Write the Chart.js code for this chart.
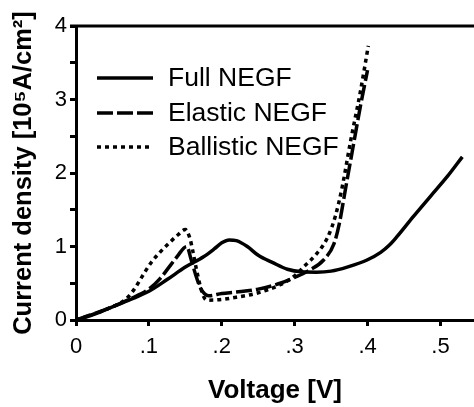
<!DOCTYPE html>
<html>
<head>
<meta charset="utf-8">
<script src="https://cdn.jsdelivr.net/npm/chart.js@4/dist/chart.umd.min.js"></script>
<style>
  body { margin: 0; background: #fff; }
  #wrap { width: 474px; height: 407px; }
</style>
</head>
<body>
<div id="wrap"><canvas id="ivChart" width="474" height="407"></canvas></div>
<script>
// ---- data ----
var fullV = [0, .02, .05, .075, .1, .125, .15, .175, .19, .2, .21, .22, .235, .25, .27, .29, .31, .33, .35, .372, .40, .418, .43, .44, .463, .486, .51, .53];
var fullJ = [0, .06, .18, .28, .39, .55, .72, .86, .97, 1.05, 1.09, 1.08, 1.0, .88, .78, .69, .655, .65, .665, .72, .82, .92, 1.02, 1.13, 1.41, 1.68, 1.96, 2.22];

var elasticV = [0, .05, .075, .1, .115, .13, .14, .148, .152, .158, .164, .17, .176, .182, .2, .22, .25, .28, .3, .317, .34, .354, .361, .37, .38, .39, .40];
var elasticJ = [0, .18, .29, .42, .56, .75, .88, .98, 1.0, .82, .62, .45, .36, .33, .36, .38, .42, .5, .58, .66, .82, 1.04, 1.3, 1.8, 2.35, 2.9, 3.4];

var ballisticV = [0, .05, .068, .08, .09, .103, .116, .128, .14, .15, .156, .16, .165, .17, .175, .18, .2, .22, .25, .28, .3, .313, .33, .345, .356, .365, .377, .39, .401];
var ballisticJ = [0, .18, .28, .42, .58, .78, .93, 1.05, 1.16, 1.23, 1.12, .95, .7, .48, .32, .27, .28, .31, .37, .48, .6, .73, .9, 1.12, 1.42, 1.8, 2.45, 3.1, 3.73];

var seriesNames = ["Full NEGF", "Elastic NEGF", "Ballistic NEGF"];
var xTicks = [0, .1, .2, .3, .4, .5];
var yTicks = [0, 1, 2, 3, 4];

function toPoints(xs, ys) {
  var pts = [];
  for (var i = 0; i < xs.length; i++) pts.push({x: xs[i], y: ys[i]});
  return pts;
}

Chart.defaults.font.family = "'Liberation Sans', Arial, sans-serif";
Chart.defaults.color = "#000";

// legend drawn inside the plot, top-left, plus the frame line on top
var insideLegend = {
  id: 'insideLegend',
  afterDraw: function(chart) {
    var ctx = chart.ctx;
    var area = chart.chartArea;
    var rows = [78, 113, 147];
    ctx.save();
    ctx.setLineDash([]);
    // top frame line
    ctx.fillStyle = '#000';
    ctx.fillRect(area.left - 6, area.top - 1.5, chart.width - area.left + 6, 3);

    chart.data.datasets.forEach(function(ds, i) {
      ctx.beginPath();
      ctx.lineWidth = ds.borderWidth;
      ctx.strokeStyle = ds.borderColor;
      ctx.setLineDash(ds.borderDash || []);
      ctx.moveTo(97, rows[i]);
      ctx.lineTo(153, rows[i]);
      ctx.stroke();
      ctx.setLineDash([]);
      ctx.fillStyle = '#000';
      ctx.font = "26.5px 'Liberation Sans', Arial, sans-serif";
      ctx.textBaseline = 'middle';
      ctx.textAlign = 'left';
      ctx.fillText(ds.label, 168, rows[i] + 1);
    });
    ctx.restore();
  }
};

var lineBase = {borderColor: '#000', borderWidth: 3.5, pointRadius: 0, fill: false,
                cubicInterpolationMode: 'monotone', borderCapStyle: 'butt'};

var config = {
  type: 'line',
  data: {
    datasets: [
      Object.assign({label: seriesNames[0], data: toPoints(fullV, fullJ)}, lineBase),
      Object.assign({label: seriesNames[1], data: toPoints(elasticV, elasticJ), borderDash: [16, 4]}, lineBase),
      Object.assign({label: seriesNames[2], data: toPoints(ballisticV, ballisticJ), borderDash: [4, 4]}, lineBase)
    ]
  },
  options: {
    responsive: false,
    animation: false,
    layout: {padding: {top: 26, left: 0, right: 0, bottom: 0}},
    plugins: {legend: {display: false}, tooltip: {enabled: false}},
    scales: {
      x: {
        type: 'linear', min: 0, max: 0.546,
        afterFit: function(s) { s.height = 87; },
        border: {color: '#000', width: 3},
        grid: {drawOnChartArea: false, color: '#000', tickLength: 6, lineWidth: 3},
        ticks: {
          stepSize: 0.1, includeBounds: false, padding: 8, maxRotation: 0,
          font: {size: 22},
          callback: function(v) {
            var n = Math.round(v * 10);
            if (xTicks.indexOf(n / 10) < 0) return null;
            return n === 0 ? '0' : '.' + n;
          }
        },
        title: {display: true, text: 'Voltage [V]', font: {size: 26, weight: 'bold'}, padding: {top: 0, bottom: 1}}
      },
      y: {
        min: 0, max: 4,
        afterFit: function(s) { s.width = 76; },
        border: {color: '#000', width: 3},
        grid: {drawOnChartArea: false, tickColor: '#000', tickLength: 6, lineWidth: 3},
        ticks: {
          stepSize: 0.5, includeBounds: false, padding: 3,
          font: {size: 22},
          callback: function(v) { return yTicks.indexOf(v) >= 0 ? String(v) : ''; }
        },
        title: {display: true, text: 'Current density [10\u2075A/cm\u00B2]', font: {size: 25.5, weight: 'bold'}, padding: {top: 9, bottom: 0}}
      }
    }
  },
  plugins: [insideLegend]
};

var ctx = document.getElementById('ivChart').getContext('2d');
var ivChart = new Chart(ctx, config);
</script>
</body>
</html>
